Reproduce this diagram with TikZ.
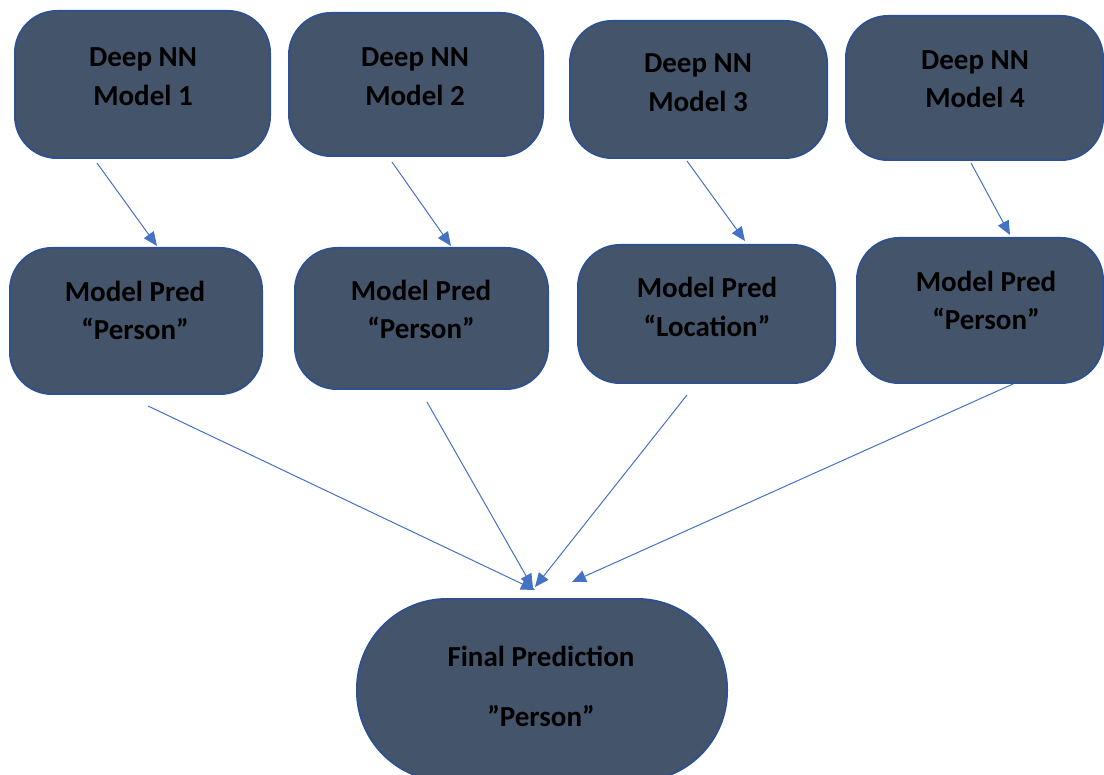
\documentclass[tikz,border=0pt]{standalone}
\usepackage{fontspec}
\setmainfont{Carlito}
\usetikzlibrary{arrows.meta,calc}
\definecolor{boxfill}{HTML}{44546A}
\definecolor{boxline}{HTML}{2F528F}
\definecolor{arrowblue}{HTML}{4472C4}
\begin{document}
\begin{tikzpicture}[x=1pt,y=-1pt,
  modelbox/.style={draw=boxline, fill=boxfill, line width=2pt, rounded corners=42pt, inner sep=0pt},
  finalbox/.style={draw=boxline, fill=boxfill, line width=2pt, rounded corners=90pt, inner sep=0pt},
  lbl/.style={font=\fontsize{29}{35}\selectfont\bfseries, text=black, inner sep=0pt, anchor=base},
  conn/.style={draw=arrowblue, line width=1pt, -{Triangle[length=14pt,width=12pt]}}]
\useasboundingbox (0,0) rectangle (1104,775);
\clip (0,0) rectangle (1104,775);

% top model boxes
\node[modelbox, minimum width=255pt, minimum height=147pt] (b1) at (142.5,84.5) {};
\node[modelbox, minimum width=254pt, minimum height=143pt] (b2) at (416,84.5) {};
\node[modelbox, minimum width=257pt, minimum height=137pt] (b3) at (698.5,89.5) {};
\node[modelbox, minimum width=257pt, minimum height=144pt] (b4) at (974.5,88) {};

% prediction boxes
\node[modelbox, minimum width=252pt, minimum height=146pt] (p1) at (136,321) {};
\node[modelbox, minimum width=253pt, minimum height=141pt] (p2) at (421.5,318.5) {};
\node[modelbox, minimum width=257pt, minimum height=138pt] (p3) at (706.5,314) {};
\node[modelbox, minimum width=246pt, minimum height=145pt] (p4) at (980,310.5) {};

% final box
\node[finalbox, minimum width=370pt, minimum height=182pt] (f) at (542,690) {};

% texts
\node[lbl] (t1a) at (143,67) {Deep NN};
\node[lbl] (t1b) at (143,106) {Model 1};
\node[lbl] (t2a) at (415,67) {Deep NN};
\node[lbl] (t2b) at (415,106) {Model 2};
\node[lbl] (t3a) at (698,73) {Deep NN};
\node[lbl] (t3b) at (698,112) {Model 3};
\node[lbl] (t4a) at (975,70) {Deep NN};
\node[lbl] (t4b) at (975,108) {Model 4};

\node[lbl] (q1a) at (135,302) {Model Pred};
\node[lbl] (q1b) at (135,340) {“Person”};
\node[lbl] (q2a) at (421,301) {Model Pred};
\node[lbl] (q2b) at (421,339) {“Person”};
\node[lbl] (q3a) at (707,298) {Model Pred};
\node[lbl] (q3b) at (707,337) {“Location”};
\node[lbl] (q4a) at (986,292) {Model Pred};
\node[lbl] (q4b) at (986,330) {“Person”};

\node[lbl] (fa) at (541,666) {Final Prediction};
\node[lbl] (fb) at (541,726) {”Person”};

% arrows top -> pred
\draw[conn] ($(b1.south)+(-45.5,4)$) -- ($(p1.north)+(21,-1)$);
\draw[conn] ($(b2.south)+(-24,5)$) -- ($(p2.north)+(29.5,-1)$);
\draw[conn] ($(b3.south)+(-11.5,2)$) -- ($(p3.north)+(38.5,-3)$);
\draw[conn] ($(b4.south)+(-3.5,2)$) -- ($(p4.north)+(30,-2)$);

% arrows pred -> final
\draw[conn] ($(p1.south)+(12,11)$) -- ($(f.north)+(-7,-8)$);
\draw[conn] ($(p2.south)+(5.5,12)$) -- ($(f.north)+(-9,-10)$);
\draw[conn] ($(p3.south)+(-19.5,11)$) -- ($(f.north)+(-7,-11)$);
\draw[conn] ($(p4.south)+(33,0)$) -- ($(f.north)+(30,-16)$);
\end{tikzpicture}
\end{document}
